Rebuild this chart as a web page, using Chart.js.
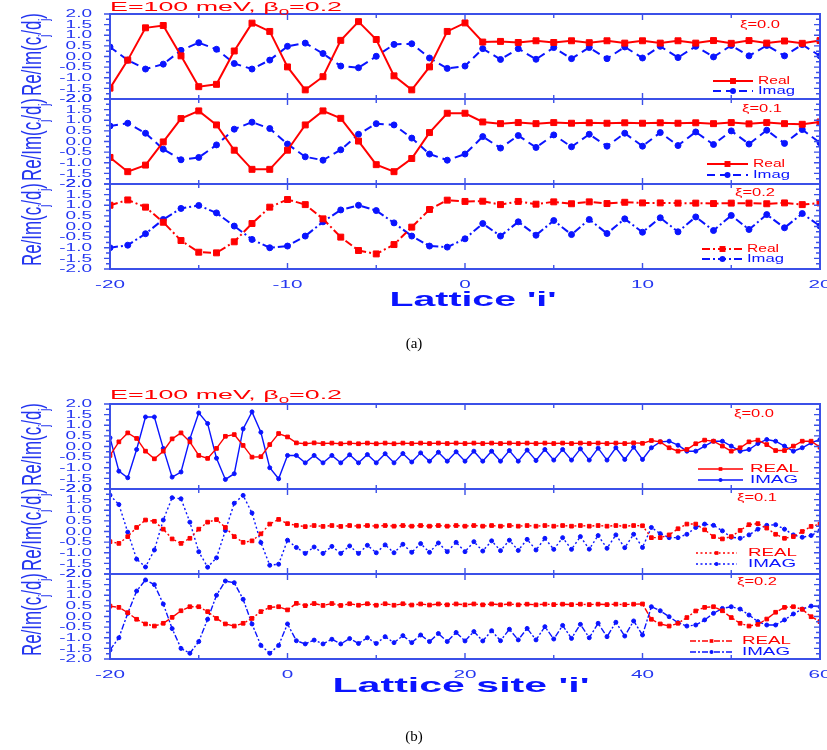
<!DOCTYPE html>
<html>
<head>
<meta charset="utf-8">
<title>Lattice amplitudes</title>
<script src="https://cdn.jsdelivr.net/npm/chart.js@4.4.1/dist/chart.umd.min.js"></script>
<style>
  html, body { margin: 0; padding: 0; background: #fff; }
  #figure { position: relative; width: 827px; height: 750px; overflow: hidden; }
  #figure canvas { position: absolute; left: 0; }
</style>
</head>
<body>
<div id="figure"></div>
<script>
// Lattice sites
const sitesA = [-20, -19, -18, -17, -16, -15, -14, -13, -12, -11, -10, -9, -8, -7, -6, -5, -4, -3, -2, -1, 0,
  1, 2, 3, 4, 5, 6, 7, 8, 9, 10, 11, 12, 13, 14, 15, 16, 17, 18, 19, 20];
const sitesB = [-20, -19, -18, -17, -16, -15, -14, -13, -12, -11, -10, -9, -8, -7, -6, -5, -4, -3, -2, -1, 0,
  1, 2, 3, 4, 5, 6, 7, 8, 9, 10, 11, 12, 13, 14, 15, 16, 17, 18, 19, 20,
  21, 22, 23, 24, 25, 26, 27, 28, 29, 30, 31, 32, 33, 34, 35, 36, 37, 38, 39, 40,
  41, 42, 43, 44, 45, 46, 47, 48, 49, 50, 51, 52, 53, 54, 55, 56, 57, 58, 59, 60];

// (a) Re / Im of c_j/d_j, xi = 0.0, 0.1, 0.2
const realA0 = [-1.49, -0.17, 1.35, 1.46, 0.03, -1.42, -1.31, 0.26, 1.57, 1.18, -0.49, -1.57, -0.95, 0.76, 1.64, 0.80, -0.91, -1.57,
  -0.49, 1.18, 1.58, 0.68, 0.71, 0.66, 0.74, 0.66, 0.74, 0.65, 0.74, 0.63, 0.74, 0.63, 0.74, 0.63, 0.75, 0.62, 0.75, 0.63, 0.73, 0.62, 0.75];
const imagA0 = [0.45, -0.17, -0.59, -0.36, 0.29, 0.65, 0.34, -0.33, -0.59, -0.17, 0.48, 0.63, 0.14, -0.45, -0.53, 0.01, 0.57, 0.60,
  -0.07, -0.56, -0.45, 0.37, -0.14, 0.37, -0.13, 0.42, -0.10, 0.42, -0.10, 0.45, -0.07, 0.48, -0.05, 0.48, -0.02, 0.52, 0.03, 0.52, 0.03, 0.56, 0.03];
const realA1 = [-0.75, -1.42, -1.11, -0.02, 1.08, 1.44, 0.78, -0.41, -1.31, -1.31, -0.41, 0.78, 1.44, 1.09, 0.02, -1.09, -1.42, -0.80,
  0.42, 1.33, 1.33, 0.92, 0.84, 0.89, 0.84, 0.89, 0.86, 0.88, 0.86, 0.88, 0.86, 0.88, 0.86, 0.88, 0.84, 0.89, 0.83, 0.89, 0.84, 0.81, 0.92];
const imagA1 = [0.73, 0.86, 0.39, -0.36, -0.86, -0.75, -0.16, 0.58, 0.91, 0.61, -0.12, -0.72, -0.88, -0.39, 0.34, 0.84, 0.78, 0.16,
  -0.59, -0.88, -0.59, 0.23, -0.31, 0.28, -0.28, 0.31, -0.25, 0.34, -0.22, 0.39, -0.22, 0.42, -0.19, 0.45, -0.14, 0.50, -0.12, 0.53, -0.09, 0.56, -0.06];
const realA2 = [1.00, 1.25, 0.91, 0.20, -0.66, -1.21, -1.24, -0.72, 0.14, 0.91, 1.27, 1.03, 0.36, -0.50, -1.13, -1.29, -0.85, -0.03,
  0.80, 1.24, 1.18, 1.19, 1.03, 1.18, 1.05, 1.16, 1.07, 1.16, 1.08, 1.14, 1.11, 1.11, 1.10, 1.10, 1.08, 1.10, 1.10, 1.07, 1.11, 1.03, 1.11];
const imagA2 = [-1.00, -0.88, -0.34, 0.33, 0.85, 0.99, 0.64, 0.02, -0.61, -1.00, -0.92, -0.45, 0.22, 0.78, 1.00, 0.75, 0.17, -0.45,
  -0.92, -0.97, -0.58, 0.14, -0.45, 0.22, -0.41, 0.28, -0.38, 0.33, -0.33, 0.36, -0.27, 0.41, -0.25, 0.45, -0.19, 0.52, -0.14, 0.56, -0.06, 0.61, 0.02];

// (b) same quantities over the longer lattice
const realB0 = [-0.42, 0.22, 0.64, 0.38, -0.22, -0.58, -0.22, 0.36, 0.64, 0.22, -0.42, -0.56, -0.09, 0.48, 0.56, 0.05, -0.50, -0.48, 0.09, 0.61, 0.45,
  0.17, 0.13, 0.17, 0.14, 0.16, 0.13, 0.16, 0.13, 0.16, 0.13, 0.16, 0.13, 0.16, 0.14, 0.16, 0.14, 0.16, 0.14, 0.16, 0.14,
  0.16, 0.14, 0.16, 0.14, 0.16, 0.14, 0.16, 0.14, 0.16, 0.14, 0.16, 0.14, 0.16, 0.14, 0.16, 0.14, 0.16, 0.14, 0.17, 0.15,
  0.28, 0.22, -0.06, -0.22, -0.14, 0.13, 0.30, 0.25, 0.02, -0.22, -0.06, 0.22, 0.30, 0.09, -0.19, -0.19, 0.02, 0.25, 0.25, -0.03];
const imagB0 = [0.41, -1.16, -1.47, -0.14, 1.39, 1.39, -0.09, -1.44, -1.20, 0.36, 1.58, 1.08, -0.55, -1.55, -1.28, 0.83, 1.63, 0.67, -1.00, -1.52, -0.42,
  -0.42, -0.77, -0.42, -0.77, -0.42, -0.77, -0.39, -0.77, -0.38, -0.77, -0.34, -0.77, -0.33, -0.73, -0.30, -0.69, -0.27, -0.69, -0.25, -0.69,
  -0.22, -0.69, -0.22, -0.69, -0.19, -0.69, -0.17, -0.66, -0.14, -0.64, -0.14, -0.64, -0.11, -0.64, -0.08, -0.64, -0.06, -0.61, -0.03, -0.61,
  -0.06, 0.22, 0.25, 0.06, -0.22, -0.22, 0.02, 0.25, 0.25, 0.02, -0.22, -0.14, 0.14, 0.33, 0.25, 0.02, -0.22, -0.06, 0.17, 0.33];
const realB1 = [-0.48, -0.56, -0.24, 0.19, 0.54, 0.48, 0.11, -0.35, -0.56, -0.32, 0.11, 0.44, 0.56, 0.19, -0.24, -0.51, -0.44, -0.11, 0.35, 0.57, 0.37,
  0.29, 0.23, 0.28, 0.24, 0.28, 0.24, 0.28, 0.25, 0.28, 0.25, 0.28, 0.25, 0.28, 0.25, 0.28, 0.25, 0.28, 0.25, 0.28, 0.25,
  0.28, 0.25, 0.28, 0.25, 0.28, 0.25, 0.28, 0.25, 0.28, 0.25, 0.28, 0.25, 0.28, 0.25, 0.28, 0.25, 0.28, 0.25, 0.28, 0.27,
  -0.29, -0.29, -0.16, 0.13, 0.35, 0.35, 0.08, -0.24, -0.35, -0.24, 0.05, 0.32, 0.37, 0.16, -0.13, -0.32, -0.24, 0.00, 0.24, 0.35];
const imagB1 = [1.71, 1.27, -0.03, -1.30, -1.67, -0.87, 0.54, 1.59, 1.54, 0.44, -0.95, -1.68, -1.24, 0.05, 1.33, 1.70, 0.87, -0.52, -1.59, -1.54, -0.41,
  -0.75, -1.03, -0.73, -1.03, -0.70, -1.03, -0.68, -1.03, -0.65, -1.00, -0.63, -1.00, -0.60, -0.98, -0.57, -0.98, -0.54, -0.95, -0.51, -0.95,
  -0.48, -0.92, -0.44, -0.90, -0.41, -0.89, -0.37, -0.87, -0.32, -0.84, -0.29, -0.84, -0.24, -0.83, -0.19, -0.79, -0.16, -0.76, -0.13, -0.75,
  0.19, -0.10, -0.29, -0.29, -0.13, 0.19, 0.35, 0.29, 0.03, -0.27, -0.32, -0.16, 0.11, 0.29, 0.32, 0.11, -0.16, -0.27, -0.19, 0.05];
const realB2 = [0.49, 0.43, 0.18, -0.13, -0.35, -0.45, -0.32, -0.04, 0.27, 0.46, 0.46, 0.23, -0.09, -0.35, -0.45, -0.32, -0.09, 0.23, 0.43, 0.46, 0.31,
  0.62, 0.51, 0.61, 0.52, 0.61, 0.52, 0.60, 0.53, 0.60, 0.53, 0.60, 0.53, 0.60, 0.54, 0.59, 0.54, 0.59, 0.55, 0.59, 0.55,
  0.59, 0.55, 0.59, 0.55, 0.59, 0.55, 0.58, 0.55, 0.58, 0.56, 0.58, 0.56, 0.58, 0.56, 0.58, 0.56, 0.58, 0.56, 0.58, 0.59,
  -0.13, -0.35, -0.45, -0.32, -0.05, 0.26, 0.43, 0.46, 0.27, -0.05, -0.32, -0.45, -0.37, -0.12, 0.20, 0.43, 0.46, 0.34, -0.01, -0.24];
const imagB2 = [-1.58, -1.00, 0.15, 1.20, 1.72, 1.50, 0.59, -0.57, -1.50, -1.73, -1.18, -0.13, 1.00, 1.67, 1.59, 0.81, -0.35, -1.36, -1.73, -1.36, -0.35,
  -1.14, -1.29, -1.11, -1.29, -1.07, -1.29, -1.04, -1.27, -1.00, -1.27, -0.95, -1.23, -0.90, -1.23, -0.87, -1.18, -0.80, -1.18, -0.75, -1.15,
  -0.71, -1.15, -0.67, -1.14, -0.60, -1.10, -0.56, -1.10, -0.48, -1.06, -0.42, -1.03, -0.37, -1.00, -0.32, -0.95, -0.27, -0.92, -0.21, -0.87,
  0.46, 0.27, -0.01, -0.29, -0.45, -0.40, -0.16, 0.15, 0.38, 0.46, 0.35, 0.07, -0.24, -0.40, -0.40, -0.16, 0.12, 0.35, 0.49, 0.46];

const xiLabels = ["ξ=0.0", "ξ=0.1", "ξ=0.2"];
const namesA = ["Real", "Imag"];
const namesB = ["REAL", "IMAG"];

const RED = "#ff0000";
const BLUE = "#0a14ff";
const AXIS = "#3b50e8";
const INK = "#2436f0";
const SANS = '"Liberation Sans", Arial, sans-serif';
const SERIF = '"Liberation Serif", "Times New Roman", serif';

const PAD_TOP = 14;
const PLOT_LEFT = 110;
const PLOT_RIGHT = 820;

// line / marker looks used by the panels
const looks = {
  solidDash: {
    real: { borderWidth: 2, borderDash: [], pointStyle: "rect", pointRadius: 4.2 },
    imag: { borderWidth: 2, borderDash: [8, 5], pointStyle: "circle", pointRadius: 3 },
  },
  dashDot: {
    real: { borderWidth: 2, borderDash: [8, 3, 2, 3], pointStyle: "rect", pointRadius: 4.2 },
    imag: { borderWidth: 2, borderDash: [8, 3, 2, 3], pointStyle: "circle", pointRadius: 3 },
  },
  thin: {
    real: { borderWidth: 1.4, borderDash: [], pointStyle: "rect", pointRadius: 2.6 },
    imag: { borderWidth: 1.4, borderDash: [], pointStyle: "circle", pointRadius: 2 },
  },
  dotted: {
    real: { borderWidth: 1.4, borderDash: [2, 2.5], pointStyle: "rect", pointRadius: 2.6 },
    imag: { borderWidth: 1.4, borderDash: [2, 2.5], pointStyle: "circle", pointRadius: 2 },
  },
  thinDashDot: {
    real: { borderWidth: 1.4, borderDash: [6, 2, 2, 2], pointStyle: "rect", pointRadius: 2.6 },
    imag: { borderWidth: 1.4, borderDash: [6, 2, 2, 2], pointStyle: "circle", pointRadius: 2 },
  },
};

const panels = [
  { top: 14, bottom: 99, sites: sitesA, xMax: 20, xStep: 10, xMinor: 5, real: realA0, imag: imagA0, xi: xiLabels[0], xiPos: [740, 25],
    names: namesA, legend: { x1: 713, x2: 753, tx: 758, y: [81, 91], w: [32, 37], size: 10 }, look: "solidDash", last: false },
  { top: 99, bottom: 184, sites: sitesA, xMax: 20, xStep: 10, xMinor: 5, real: realA1, imag: imagA1, xi: xiLabels[1], xiPos: [742, 109],
    names: namesA, legend: { x1: 707, x2: 748, tx: 753, y: [164, 175], w: [32, 37], size: 10 }, look: "solidDash", last: false },
  { top: 184, bottom: 269, sites: sitesA, xMax: 20, xStep: 10, xMinor: 5, real: realA2, imag: imagA2, xi: xiLabels[2], xiPos: [735, 193],
    names: namesA, legend: { x1: 702, x2: 743, tx: 747, y: [249, 259], w: [32, 37], size: 10 }, look: "dashDot", last: true },
  { top: 404, bottom: 489, sites: sitesB, xMax: 60, xStep: 20, xMinor: 10, real: realB0, imag: imagB0, xi: xiLabels[0], xiPos: [734, 414],
    names: namesB, legend: { x1: 698, x2: 743, tx: 750, y: [469, 480], w: [49, 48], size: 10.5 }, look: "thin", last: false },
  { top: 489, bottom: 574, sites: sitesB, xMax: 60, xStep: 20, xMinor: 10, real: realB1, imag: imagB1, xi: xiLabels[1], xiPos: [737, 498],
    names: namesB, legend: { x1: 696, x2: 737, tx: 748, y: [553, 564], w: [49, 48], size: 10.5 }, look: "dotted", last: false },
  { top: 574, bottom: 659, sites: sitesB, xMax: 60, xStep: 20, xMinor: 10, real: realB2, imag: imagB2, xi: xiLabels[2], xiPos: [737, 582],
    names: namesB, legend: { x1: 690, x2: 733, tx: 742, y: [641, 652], w: [49, 48], size: 10.5 }, look: "thinDashDot", last: true },
];

// Draws text (with optional subscripts) stretched horizontally, either by a
// fixed factor or so the whole string spans o.width pixels.
function drawText(ctx, parts, x, y, o) {
  const family = o.family || SANS;
  const weight = o.weight || "normal";
  const subScale = o.subScale || 0.7;
  const subShift = o.subShift || 0.3;
  let natural = 0;
  const items = parts.map((pt) => {
    const size = pt.sub ? o.size * subScale : o.size;
    ctx.font = `${weight} ${size}px ${family}`;
    const w = ctx.measureText(pt.t).width;
    natural += w;
    return { t: pt.t, size, w, dy: pt.sub ? o.size * subShift : 0 };
  });
  const k = o.width ? o.width / natural : o.stretch || 1;
  const total = natural * k;
  const x0 = x - (o.align === "center" ? total / 2 : o.align === "right" ? total : 0);
  ctx.save();
  ctx.translate(x0, y);
  ctx.scale(k, 1);
  ctx.fillStyle = o.color;
  ctx.textAlign = "left";
  ctx.textBaseline = o.baseline || "alphabetic";
  let cx = 0;
  items.forEach((it) => {
    ctx.font = `${weight} ${it.size}px ${family}`;
    ctx.fillText(it.t, cx, it.dy);
    cx += it.w;
  });
  ctx.restore();
}

function drawMarker(ctx, style, x, y, r) {
  ctx.beginPath();
  if (style === "rect") {
    const s = r * Math.SQRT1_2;
    ctx.rect(x - s, y - s, 2 * s, 2 * s);
  } else {
    ctx.arc(x, y, r, 0, Math.PI * 2);
  }
  ctx.fill();
}

// frame, inward/outward ticks, tick labels, legend and panel captions
function panelDecor(p) {
  return {
    id: "panelDecor",
    afterDraw(chart) {
      const { ctx, chartArea: a, scales } = chart;
      const x = scales.x;
      const y = scales.y;
      const toY = (v) => v - p.top + a.top;

      ctx.save();
      ctx.strokeStyle = AXIS;
      ctx.lineWidth = 1.4;
      ctx.beginPath();
      for (let v = -20; v <= p.xMax; v += p.xMinor) {
        const px = x.getPixelForValue(v);
        const len = v % p.xStep === 0 ? 6 : 4;
        ctx.moveTo(px, a.top);
        ctx.lineTo(px, a.top + len);
        ctx.moveTo(px, a.bottom);
        ctx.lineTo(px, a.bottom - len);
      }
      for (let k = -8; k <= 8; k++) {
        const py = y.getPixelForValue(k * 0.25);
        const len = k % 2 === 0 ? 6 : 4;
        ctx.moveTo(a.left - len, py);
        ctx.lineTo(a.left, py);
        ctx.moveTo(a.right - len, py);
        ctx.lineTo(a.right, py);
      }
      ctx.stroke();
      ctx.lineWidth = 2;
      ctx.strokeRect(a.left, a.top, a.right - a.left, a.bottom - a.top);
      ctx.restore();

      y.ticks.forEach((t) => {
        drawText(ctx, [{ t: t.value.toFixed(1) }], 92, y.getPixelForValue(t.value),
          { size: 11.5, stretch: 1.65, align: "right", baseline: "middle", color: INK });
      });
      if (p.last) {
        x.ticks.forEach((t) => {
          drawText(ctx, [{ t: String(t.value) }], x.getPixelForValue(t.value), a.bottom + 10,
            { size: 11.5, stretch: 1.8, align: "center", baseline: "top", color: INK });
        });
      }

      // legend
      const L = p.legend;
      chart.data.datasets.forEach((ds, i) => {
        const yy = toY(L.y[i]);
        ctx.save();
        ctx.strokeStyle = ds.borderColor;
        ctx.lineWidth = ds.borderWidth;
        ctx.setLineDash(ds.borderDash);
        ctx.beginPath();
        ctx.moveTo(L.x1, yy);
        ctx.lineTo(L.x2, yy);
        ctx.stroke();
        ctx.setLineDash([]);
        ctx.fillStyle = ds.backgroundColor;
        drawMarker(ctx, ds.pointStyle, (L.x1 + L.x2) / 2, yy, ds.pointRadius);
        ctx.restore();
        drawText(ctx, [{ t: p.names[i] }], L.tx, yy,
          { size: L.size, width: L.w[i], baseline: "middle", color: ds.borderColor });
      });

      drawText(ctx, [{ t: p.xi }], p.xiPos[0], toY(p.xiPos[1]),
        { size: 11, width: 40, baseline: "middle", color: RED });

      // rotated y title
      ctx.save();
      ctx.translate(41, toY((p.top + p.bottom) / 2 - 2));
      ctx.rotate(-Math.PI / 2);
      drawText(ctx, [{ t: "Re/Im(c" }, { t: "j", sub: true }, { t: "/d" }, { t: "j", sub: true }, { t: ")" }], 0, 0,
        { size: 28, width: 83, align: "center", color: INK, subScale: 0.55, subShift: 0.3 });
      ctx.restore();
    },
  };
}

function buildPanel(p) {
  const padBottom = p.last ? 26 : 14;
  const canvas = document.createElement("canvas");
  canvas.width = 827;
  canvas.height = p.bottom - p.top + PAD_TOP + padBottom;
  canvas.style.top = p.top - PAD_TOP + "px";
  document.getElementById("figure").appendChild(canvas);

  const look = looks[p.look];
  const series = (values, isReal) => ({
    label: isReal ? p.names[0] : p.names[1],
    data: p.sites.map((site, i) => ({ x: site, y: values[i] })),
    borderColor: isReal ? RED : BLUE,
    backgroundColor: isReal ? RED : BLUE,
    pointBorderWidth: 1,
    tension: 0,
    fill: false,
    ...(isReal ? look.real : look.imag),
  });

  return new Chart(canvas, {
    type: "line",
    data: { datasets: [series(p.real, true), series(p.imag, false)] },
    options: {
      responsive: false,
      animation: false,
      devicePixelRatio: 1,
      layout: { padding: { top: PAD_TOP, bottom: padBottom, left: 0, right: 827 - PLOT_RIGHT } },
      plugins: { legend: { display: false }, tooltip: { enabled: false } },
      scales: {
        x: {
          type: "linear",
          min: -20,
          max: p.xMax,
          grid: { display: false, drawTicks: false },
          border: { display: false },
          ticks: { display: false, stepSize: p.xStep },
          afterFit: (scale) => { scale.height = 0; },
        },
        y: {
          min: -2,
          max: 2,
          grid: { display: false, drawTicks: false },
          border: { display: false },
          ticks: { display: false, stepSize: 0.5 },
          afterFit: (scale) => { scale.width = PLOT_LEFT; },
        },
      },
    },
    plugins: [panelDecor(p)],
  });
}

panels.forEach(buildPanel);

// figure-level titles and captions
const overlay = document.createElement("canvas");
overlay.width = 827;
overlay.height = 750;
overlay.style.top = "0px";
document.getElementById("figure").appendChild(overlay);
const g = overlay.getContext("2d");

[10.5, 398.5].forEach((base) => {
  drawText(g, [{ t: "E=100 meV, β" }, { t: "0", sub: true }, { t: "=0.2" }], 110, base,
    { size: 13, width: 232, color: RED, subScale: 0.7, subShift: 0.35 });
});
drawText(g, [{ t: "Lattice 'i'" }], 473, 306, { size: 21, weight: "bold", width: 167, align: "center", color: BLUE });
drawText(g, [{ t: "Lattice site 'i'" }], 461, 692, { size: 21, weight: "bold", width: 257, align: "center", color: BLUE });
drawText(g, [{ t: "(a)" }], 414, 348, { size: 15, family: SERIF, align: "center", color: "#000" });
drawText(g, [{ t: "(b)" }], 414, 741, { size: 15, family: SERIF, align: "center", color: "#000" });
</script>
</body>
</html>
